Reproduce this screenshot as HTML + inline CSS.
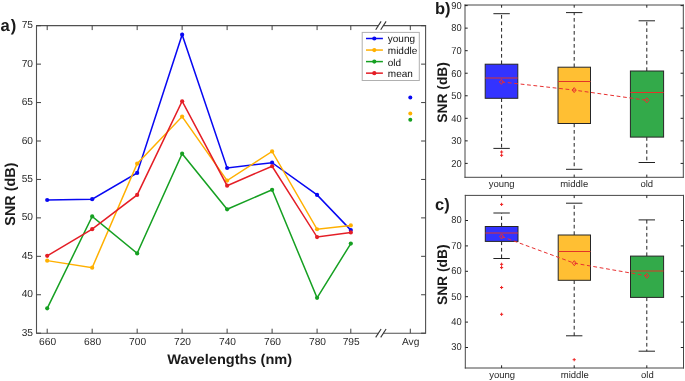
<!DOCTYPE html>
<html><head><meta charset="utf-8"><style>
html,body{margin:0;padding:0;background:#fff;}
body{width:685px;height:381px;overflow:hidden;}
svg{display:block;will-change:transform;text-rendering:geometricPrecision;}
</style></head><body>
<svg width="685" height="381" viewBox="0 0 685 381">
<rect width="685" height="381" fill="#fff"/>
<path d="M36.5 25.6V333.2M425.6 25.6V333.2" stroke="#505050" stroke-width="1.1" fill="none"/>
<path d="M36 333.2H378.4M383.4 333.2H426.1M36 25.6H378.4M383.4 25.6H426.1" stroke="#505050" stroke-width="1.1" fill="none"/>
<line x1="375.7" y1="337.4" x2="381.1" y2="329" stroke="#333" stroke-width="1.1"/>
<line x1="380.7" y1="337.4" x2="386.1" y2="329" stroke="#333" stroke-width="1.1"/>
<line x1="375.7" y1="29.8" x2="381.1" y2="21.4" stroke="#333" stroke-width="1.1"/>
<line x1="380.7" y1="29.8" x2="386.1" y2="21.4" stroke="#333" stroke-width="1.1"/>
<path d="M47.2 333.2v-4.5M47.2 25.6v4.5M92.18 333.2v-4.5M92.18 25.6v4.5M137.16 333.2v-4.5M137.16 25.6v4.5M182.14 333.2v-4.5M182.14 25.6v4.5M227.12 333.2v-4.5M227.12 25.6v4.5M272.1 333.2v-4.5M272.1 25.6v4.5M317.08 333.2v-4.5M317.08 25.6v4.5M350.81 333.2v-4.5M350.81 25.6v4.5M410.3 333.2v-4.5M410.3 25.6v4.5M36.5 333.2h4.5M425.6 333.2h-4.5M36.5 294.76h4.5M425.6 294.76h-4.5M36.5 256.32h4.5M425.6 256.32h-4.5M36.5 217.89h4.5M425.6 217.89h-4.5M36.5 179.45h4.5M425.6 179.45h-4.5M36.5 141.01h4.5M425.6 141.01h-4.5M36.5 102.57h4.5M425.6 102.57h-4.5M36.5 64.14h4.5M425.6 64.14h-4.5M36.5 25.7h4.5M425.6 25.7h-4.5" stroke="#404040" stroke-width="1" fill="none"/>
<g font-family='"Liberation Sans", sans-serif' font-size="10.2" fill="#2a2a2a" lengthAdjust="spacingAndGlyphs">
<text x="33" y="335.7" text-anchor="end" textLength="11.35" lengthAdjust="spacingAndGlyphs">35</text>
<text x="33" y="297.26" text-anchor="end" textLength="11.35" lengthAdjust="spacingAndGlyphs">40</text>
<text x="33" y="258.82" text-anchor="end" textLength="11.35" lengthAdjust="spacingAndGlyphs">45</text>
<text x="33" y="220.39" text-anchor="end" textLength="11.35" lengthAdjust="spacingAndGlyphs">50</text>
<text x="33" y="181.95" text-anchor="end" textLength="11.35" lengthAdjust="spacingAndGlyphs">55</text>
<text x="33" y="143.51" text-anchor="end" textLength="11.35" lengthAdjust="spacingAndGlyphs">60</text>
<text x="33" y="105.07" text-anchor="end" textLength="11.35" lengthAdjust="spacingAndGlyphs">65</text>
<text x="33" y="66.64" text-anchor="end" textLength="11.35" lengthAdjust="spacingAndGlyphs">70</text>
<text x="33" y="28.2" text-anchor="end" textLength="11.35" lengthAdjust="spacingAndGlyphs">75</text>
<text x="47.6" y="344.8" text-anchor="middle" textLength="17.02" lengthAdjust="spacingAndGlyphs">660</text>
<text x="92.58" y="344.8" text-anchor="middle" textLength="17.02" lengthAdjust="spacingAndGlyphs">680</text>
<text x="137.56" y="344.8" text-anchor="middle" textLength="17.02" lengthAdjust="spacingAndGlyphs">700</text>
<text x="182.54" y="344.8" text-anchor="middle" textLength="17.02" lengthAdjust="spacingAndGlyphs">720</text>
<text x="227.52" y="344.8" text-anchor="middle" textLength="17.02" lengthAdjust="spacingAndGlyphs">740</text>
<text x="272.5" y="344.8" text-anchor="middle" textLength="17.02" lengthAdjust="spacingAndGlyphs">760</text>
<text x="317.48" y="344.8" text-anchor="middle" textLength="17.02" lengthAdjust="spacingAndGlyphs">780</text>
<text x="351.21" y="344.8" text-anchor="middle" textLength="17.02" lengthAdjust="spacingAndGlyphs">795</text>
<text x="410.7" y="344.8" text-anchor="middle" textLength="17.39" lengthAdjust="spacingAndGlyphs">Avg</text>
</g>
<polyline points="47.2,199.98 92.18,199.21 137.16,172.92 182.14,34.69 227.12,168 272.1,162.69 317.08,194.9 350.81,230.11" fill="none" stroke="#0808f2" stroke-width="1.5" stroke-linejoin="miter"/>
<circle cx="47.2" cy="199.98" r="2.1" fill="#0808f2"/>
<circle cx="92.18" cy="199.21" r="2.1" fill="#0808f2"/>
<circle cx="137.16" cy="172.92" r="2.1" fill="#0808f2"/>
<circle cx="182.14" cy="34.69" r="2.1" fill="#0808f2"/>
<circle cx="227.12" cy="168" r="2.1" fill="#0808f2"/>
<circle cx="272.1" cy="162.69" r="2.1" fill="#0808f2"/>
<circle cx="317.08" cy="194.9" r="2.1" fill="#0808f2"/>
<circle cx="350.81" cy="230.11" r="2.1" fill="#0808f2"/>
<circle cx="410.3" cy="97.42" r="2" fill="#0808f2"/>
<polyline points="47.2,260.63 92.18,267.7 137.16,163.69 182.14,116.57 227.12,180.6 272.1,151.47 317.08,229.26 350.81,225.42" fill="none" stroke="#ffb000" stroke-width="1.5" stroke-linejoin="miter"/>
<circle cx="47.2" cy="260.63" r="2.1" fill="#ffb000"/>
<circle cx="92.18" cy="267.7" r="2.1" fill="#ffb000"/>
<circle cx="137.16" cy="163.69" r="2.1" fill="#ffb000"/>
<circle cx="182.14" cy="116.57" r="2.1" fill="#ffb000"/>
<circle cx="227.12" cy="180.6" r="2.1" fill="#ffb000"/>
<circle cx="272.1" cy="151.47" r="2.1" fill="#ffb000"/>
<circle cx="317.08" cy="229.26" r="2.1" fill="#ffb000"/>
<circle cx="350.81" cy="225.42" r="2.1" fill="#ffb000"/>
<circle cx="410.3" cy="113.41" r="2" fill="#ffb000"/>
<polyline points="47.2,308.37 92.18,216.43 137.16,253.4 182.14,153.7 227.12,209.28 272.1,189.83 317.08,297.84 350.81,243.56" fill="none" stroke="#16a022" stroke-width="1.5" stroke-linejoin="miter"/>
<circle cx="47.2" cy="308.37" r="2.1" fill="#16a022"/>
<circle cx="92.18" cy="216.43" r="2.1" fill="#16a022"/>
<circle cx="137.16" cy="253.4" r="2.1" fill="#16a022"/>
<circle cx="182.14" cy="153.7" r="2.1" fill="#16a022"/>
<circle cx="227.12" cy="209.28" r="2.1" fill="#16a022"/>
<circle cx="272.1" cy="189.83" r="2.1" fill="#16a022"/>
<circle cx="317.08" cy="297.84" r="2.1" fill="#16a022"/>
<circle cx="350.81" cy="243.56" r="2.1" fill="#16a022"/>
<circle cx="410.3" cy="119.64" r="2" fill="#16a022"/>
<polyline points="47.2,255.86 92.18,229.19 137.16,194.9 182.14,101.27 227.12,185.68 272.1,166.23 317.08,237.03 350.81,232.42" fill="none" stroke="#e41e26" stroke-width="1.5" stroke-linejoin="miter"/>
<circle cx="47.2" cy="255.86" r="2.1" fill="#e41e26"/>
<circle cx="92.18" cy="229.19" r="2.1" fill="#e41e26"/>
<circle cx="137.16" cy="194.9" r="2.1" fill="#e41e26"/>
<circle cx="182.14" cy="101.27" r="2.1" fill="#e41e26"/>
<circle cx="227.12" cy="185.68" r="2.1" fill="#e41e26"/>
<circle cx="272.1" cy="166.23" r="2.1" fill="#e41e26"/>
<circle cx="317.08" cy="237.03" r="2.1" fill="#e41e26"/>
<circle cx="350.81" cy="232.42" r="2.1" fill="#e41e26"/>
<rect x="362.2" y="32.4" width="57.1" height="48.1" fill="#fff" stroke="#b0b0b0" stroke-width="1"/>
<g font-family='"Liberation Sans", sans-serif' font-size="10" fill="#111">
<line x1="366" y1="38.5" x2="382.9" y2="38.5" stroke="#0808f2" stroke-width="1.5"/>
<circle cx="374.3" cy="38.5" r="2.1" fill="#0808f2"/>
<text x="387.8" y="42.4">young</text>
<line x1="366" y1="50.05" x2="382.9" y2="50.05" stroke="#ffb000" stroke-width="1.5"/>
<circle cx="374.3" cy="50.05" r="2.1" fill="#ffb000"/>
<text x="387.8" y="53.95">middle</text>
<line x1="366" y1="61.6" x2="382.9" y2="61.6" stroke="#16a022" stroke-width="1.5"/>
<circle cx="374.3" cy="61.6" r="2.1" fill="#16a022"/>
<text x="387.8" y="65.5">old</text>
<line x1="366" y1="73.15" x2="382.9" y2="73.15" stroke="#e41e26" stroke-width="1.5"/>
<circle cx="374.3" cy="73.15" r="2.1" fill="#e41e26"/>
<text x="387.8" y="77.05">mean</text>
</g>
<text x="0.6" y="30.9" font-family='"Liberation Sans", sans-serif' font-weight="bold" font-size="16.6" fill="#1a1a1a">a<tspan dx="0.9">)</tspan></text>
<text transform="translate(14.6,194.1) rotate(-90)" text-anchor="middle" font-family='"Liberation Sans", sans-serif' font-weight="bold" font-size="14.4" fill="#1a1a1a">SNR (dB)</text>
<text x="167.2" y="363.9" font-family='"Liberation Sans", sans-serif' font-weight="bold" font-size="14" textLength="125" lengthAdjust="spacingAndGlyphs" fill="#1a1a1a">Wavelengths (nm)</text>
<line x1="501.6" y1="64.2" x2="501.6" y2="13.7" stroke="#222" stroke-width="1" stroke-dasharray="3.7 2.8"/>
<line x1="501.6" y1="98.3" x2="501.6" y2="148.4" stroke="#222" stroke-width="1" stroke-dasharray="3.7 2.8"/>
<line x1="493.4" y1="13.7" x2="509.8" y2="13.7" stroke="#222" stroke-width="1"/>
<line x1="493.4" y1="148.4" x2="509.8" y2="148.4" stroke="#222" stroke-width="1"/>
<rect x="485.2" y="64.2" width="32.6" height="34.1" fill="#3333ff" stroke="#262626" stroke-width="1"/>
<line x1="485.2" y1="78" x2="517.8" y2="78" stroke="#e23428" stroke-width="1.1"/>
<path d="M500 152h3.2M501.6 150.4v3.2" stroke="#ee2222" stroke-width="1"/>
<path d="M500 155.3h3.2M501.6 153.7v3.2" stroke="#ee2222" stroke-width="1"/>
<line x1="574.2" y1="67.2" x2="574.2" y2="12.6" stroke="#222" stroke-width="1" stroke-dasharray="3.7 2.8"/>
<line x1="574.2" y1="123.5" x2="574.2" y2="169.3" stroke="#222" stroke-width="1" stroke-dasharray="3.7 2.8"/>
<line x1="566" y1="12.6" x2="582.4" y2="12.6" stroke="#222" stroke-width="1"/>
<line x1="566" y1="169.3" x2="582.4" y2="169.3" stroke="#222" stroke-width="1"/>
<rect x="558" y="67.2" width="32.5" height="56.3" fill="#ffbf33" stroke="#262626" stroke-width="1"/>
<line x1="558" y1="81.5" x2="590.5" y2="81.5" stroke="#e23428" stroke-width="1.1"/>
<line x1="646.8" y1="71" x2="646.8" y2="20.8" stroke="#222" stroke-width="1" stroke-dasharray="3.7 2.8"/>
<line x1="646.8" y1="137.1" x2="646.8" y2="162.5" stroke="#222" stroke-width="1" stroke-dasharray="3.7 2.8"/>
<line x1="638.6" y1="20.8" x2="655" y2="20.8" stroke="#222" stroke-width="1"/>
<line x1="638.6" y1="162.5" x2="655" y2="162.5" stroke="#222" stroke-width="1"/>
<rect x="630.4" y="71" width="33.2" height="66.1" fill="#33aa4a" stroke="#262626" stroke-width="1"/>
<line x1="630.4" y1="92.5" x2="663.6" y2="92.5" stroke="#e23428" stroke-width="1.1"/>
<polyline points="501.4,81.9 574.2,90.1 646.8,100.3" fill="none" stroke="#e83030" stroke-width="1" stroke-dasharray="3.8 2.65"/>
<path d="M501.4 79.4L503.4 81.9L501.4 84.4L499.4 81.9Z" fill="none" stroke="#e83030" stroke-width="1"/>
<path d="M574.2 87.6L576.2 90.1L574.2 92.6L572.2 90.1Z" fill="none" stroke="#e83030" stroke-width="1"/>
<path d="M646.8 97.8L648.8 100.3L646.8 102.8L644.8 100.3Z" fill="none" stroke="#e83030" stroke-width="1"/>
<path d="M465 4.5V177.8M683.3 4.5V177.8M464.5 5H683.8M464.5 177.3H683.8" fill="none" stroke="#474747" stroke-width="1"/>
<path d="M465 163.4h2.7M683.3 163.4h-2.7M465 140.86h2.7M683.3 140.86h-2.7M465 118.31h2.7M683.3 118.31h-2.7M465 95.77h2.7M683.3 95.77h-2.7M465 73.23h2.7M683.3 73.23h-2.7M465 50.69h2.7M683.3 50.69h-2.7M465 28.14h2.7M683.3 28.14h-2.7M465 5.6h2.7M683.3 5.6h-2.7M501.6 177.3v-2.7M501.6 5v2.7M574.2 177.3v-2.7M574.2 5v2.7M646.8 177.3v-2.7M646.8 5v2.7" stroke="#222" stroke-width="1" fill="none"/>
<g font-family='"Liberation Sans", sans-serif' font-size="9.7" fill="#2a2a2a">
<text x="461.6" y="166.7" text-anchor="end" font-size="10" textLength="10.4" lengthAdjust="spacingAndGlyphs">20</text>
<text x="461.6" y="144.16" text-anchor="end" font-size="10" textLength="10.4" lengthAdjust="spacingAndGlyphs">30</text>
<text x="461.6" y="121.61" text-anchor="end" font-size="10" textLength="10.4" lengthAdjust="spacingAndGlyphs">40</text>
<text x="461.6" y="99.07" text-anchor="end" font-size="10" textLength="10.4" lengthAdjust="spacingAndGlyphs">50</text>
<text x="461.6" y="76.53" text-anchor="end" font-size="10" textLength="10.4" lengthAdjust="spacingAndGlyphs">60</text>
<text x="461.6" y="53.98" text-anchor="end" font-size="10" textLength="10.4" lengthAdjust="spacingAndGlyphs">70</text>
<text x="461.6" y="31.44" text-anchor="end" font-size="10" textLength="10.4" lengthAdjust="spacingAndGlyphs">80</text>
<text x="461.6" y="8.9" text-anchor="end" font-size="10" textLength="10.4" lengthAdjust="spacingAndGlyphs">90</text>
<text x="501.6" y="186.6" text-anchor="middle" font-size="9.5">young</text>
<text x="574.2" y="186.6" text-anchor="middle" font-size="9.5">middle</text>
<text x="646.8" y="186.6" text-anchor="middle" font-size="9.5">old</text>
</g>
<text x="435" y="13.8" font-family='"Liberation Sans", sans-serif' font-weight="bold" font-size="16.5" fill="#1a1a1a">b)</text>
<text transform="translate(446.5,92.4) rotate(-90)" text-anchor="middle" font-family='"Liberation Sans", sans-serif' font-weight="bold" font-size="13.8" fill="#1a1a1a">SNR (dB)</text>
<line x1="501.6" y1="226.5" x2="501.6" y2="213" stroke="#222" stroke-width="1" stroke-dasharray="3.7 2.8"/>
<line x1="501.6" y1="241.4" x2="501.6" y2="258.5" stroke="#222" stroke-width="1" stroke-dasharray="3.7 2.8"/>
<line x1="493.4" y1="213" x2="509.8" y2="213" stroke="#222" stroke-width="1"/>
<line x1="493.4" y1="258.5" x2="509.8" y2="258.5" stroke="#222" stroke-width="1"/>
<rect x="485.3" y="226.5" width="32.7" height="14.9" fill="#3333ff" stroke="#262626" stroke-width="1"/>
<line x1="485.3" y1="233" x2="518" y2="233" stroke="#e23428" stroke-width="1.1"/>
<path d="M500 204.4h3.2M501.6 202.8v3.2" stroke="#ee2222" stroke-width="1"/>
<path d="M500 264.3h3.2M501.6 262.7v3.2" stroke="#ee2222" stroke-width="1"/>
<path d="M500 267.6h3.2M501.6 266v3.2" stroke="#ee2222" stroke-width="1"/>
<path d="M500 287.5h3.2M501.6 285.9v3.2" stroke="#ee2222" stroke-width="1"/>
<path d="M500 314.3h3.2M501.6 312.7v3.2" stroke="#ee2222" stroke-width="1"/>
<line x1="574.2" y1="235" x2="574.2" y2="203.2" stroke="#222" stroke-width="1" stroke-dasharray="3.7 2.8"/>
<line x1="574.2" y1="280.3" x2="574.2" y2="335.8" stroke="#222" stroke-width="1" stroke-dasharray="3.7 2.8"/>
<line x1="566" y1="203.2" x2="582.4" y2="203.2" stroke="#222" stroke-width="1"/>
<line x1="566" y1="335.8" x2="582.4" y2="335.8" stroke="#222" stroke-width="1"/>
<rect x="558.2" y="235" width="32.3" height="45.3" fill="#ffbf33" stroke="#262626" stroke-width="1"/>
<line x1="558.2" y1="251.5" x2="590.5" y2="251.5" stroke="#e23428" stroke-width="1.1"/>
<path d="M572.6 359.7h3.2M574.2 358.1v3.2" stroke="#ee2222" stroke-width="1"/>
<line x1="646.8" y1="256.1" x2="646.8" y2="219.9" stroke="#222" stroke-width="1" stroke-dasharray="3.7 2.8"/>
<line x1="646.8" y1="297.4" x2="646.8" y2="351.2" stroke="#222" stroke-width="1" stroke-dasharray="3.7 2.8"/>
<line x1="638.6" y1="219.9" x2="655" y2="219.9" stroke="#222" stroke-width="1"/>
<line x1="638.6" y1="351.2" x2="655" y2="351.2" stroke="#222" stroke-width="1"/>
<rect x="630.5" y="256.1" width="33.1" height="41.3" fill="#33aa4a" stroke="#262626" stroke-width="1"/>
<line x1="630.5" y1="271" x2="663.6" y2="271" stroke="#e23428" stroke-width="1.1"/>
<polyline points="501.6,236.5 574.3,263.2 646.8,275.8" fill="none" stroke="#e83030" stroke-width="1" stroke-dasharray="3.8 2.65"/>
<path d="M501.6 234L503.6 236.5L501.6 239L499.6 236.5Z" fill="none" stroke="#e83030" stroke-width="1"/>
<path d="M574.3 260.7L576.3 263.2L574.3 265.7L572.3 263.2Z" fill="none" stroke="#e83030" stroke-width="1"/>
<path d="M646.8 273.3L648.8 275.8L646.8 278.3L644.8 275.8Z" fill="none" stroke="#e83030" stroke-width="1"/>
<path d="M465.3 194.9V368.5M683.5 194.9V368.5M464.8 195.4H684M464.8 368H684" fill="none" stroke="#474747" stroke-width="1"/>
<path d="M465.3 347.5h2.7M683.5 347.5h-2.7M465.3 322.1h2.7M683.5 322.1h-2.7M465.3 296.7h2.7M683.5 296.7h-2.7M465.3 271.3h2.7M683.5 271.3h-2.7M465.3 245.9h2.7M683.5 245.9h-2.7M465.3 220.5h2.7M683.5 220.5h-2.7M501.6 368v-2.7M501.6 195.4v2.7M574.2 368v-2.7M574.2 195.4v2.7M646.8 368v-2.7M646.8 195.4v2.7" stroke="#222" stroke-width="1" fill="none"/>
<g font-family='"Liberation Sans", sans-serif' font-size="9.7" fill="#2a2a2a">
<text x="461.6" y="350.4" text-anchor="end" font-size="10" textLength="10.4" lengthAdjust="spacingAndGlyphs">30</text>
<text x="461.6" y="325" text-anchor="end" font-size="10" textLength="10.4" lengthAdjust="spacingAndGlyphs">40</text>
<text x="461.6" y="299.6" text-anchor="end" font-size="10" textLength="10.4" lengthAdjust="spacingAndGlyphs">50</text>
<text x="461.6" y="274.2" text-anchor="end" font-size="10" textLength="10.4" lengthAdjust="spacingAndGlyphs">60</text>
<text x="461.6" y="248.8" text-anchor="end" font-size="10" textLength="10.4" lengthAdjust="spacingAndGlyphs">70</text>
<text x="461.6" y="223.4" text-anchor="end" font-size="10" textLength="10.4" lengthAdjust="spacingAndGlyphs">80</text>
<text x="502.2" y="377.7" text-anchor="middle" font-size="9.5">young</text>
<text x="574.8" y="377.7" text-anchor="middle" font-size="9.5">middle</text>
<text x="647.4" y="377.7" text-anchor="middle" font-size="9.5">old</text>
</g>
<text x="435" y="209.8" font-family='"Liberation Sans", sans-serif' font-weight="bold" font-size="16.5" fill="#1a1a1a">c)</text>
<text transform="translate(446.5,274.8) rotate(-90)" text-anchor="middle" font-family='"Liberation Sans", sans-serif' font-weight="bold" font-size="13.8" fill="#1a1a1a">SNR (dB)</text>
</svg>
</body></html>
